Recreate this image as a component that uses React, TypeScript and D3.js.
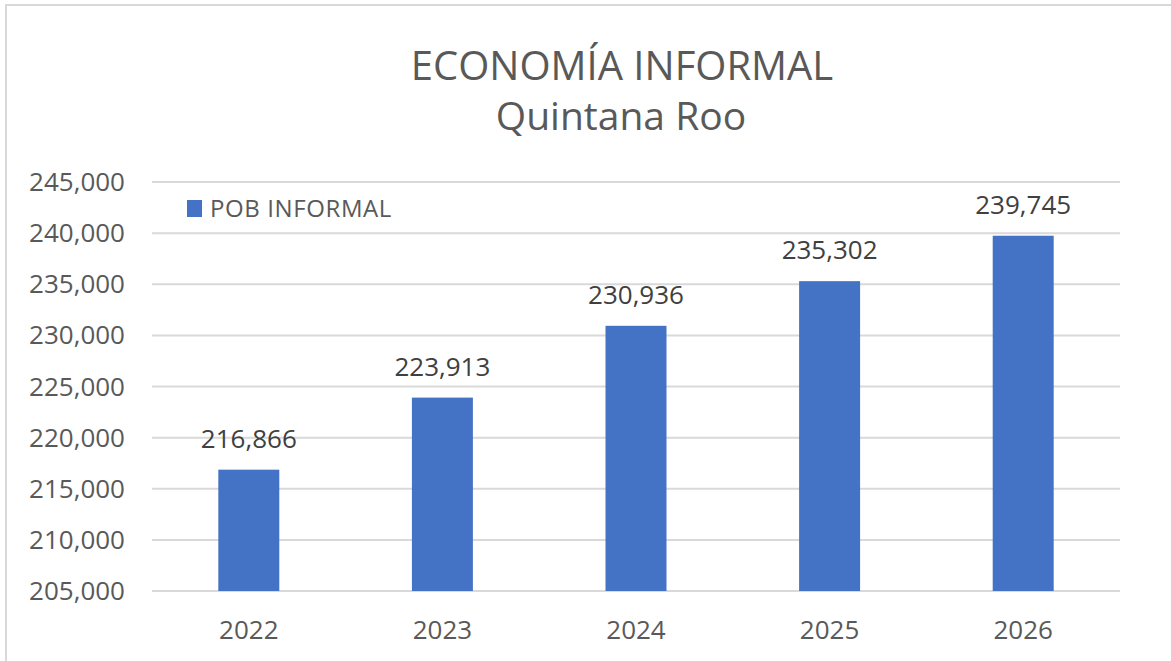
import React from "react";
import * as d3 from "d3";

const years = ["2022", "2023", "2024", "2025", "2026"];
const values = [216866, 223913, 230936, 235302, 239745];
const yTicks = [205000, 210000, 215000, 220000, 225000, 230000, 235000, 240000, 245000];

const width = 1171;
const height = 661;
const margin = { top: 182, right: 51, bottom: 70, left: 152 };
const font = "'Open Sans', sans-serif";
const textColor = "#595959";

export default function App() {
  const x = d3
    .scaleBand()
    .domain(years)
    .range([margin.left, width - margin.right])
    .paddingInner(0.685)
    .paddingOuter(0.3425);

  const y = d3
    .scaleLinear()
    .domain([205000, 245000])
    .range([height - margin.bottom, margin.top]);

  const fmt = d3.format(",");

  return (
    <svg
      width={width}
      height={height}
      style={{ position: "absolute", left: 0, top: 0, background: "#fff" }}
      fontFamily={font}
    >
      {/* chart area border */}
      <rect x={6} y={5} width={width + 20} height={height + 20} fill="#fff" stroke="#d9d9d9" strokeWidth={2} />

      {/* title */}
      <text x={622} y={80} textAnchor="middle" fontSize={40} fill={textColor}>
        ECONOMÍA INFORMAL
      </text>
      <text x={621} y={130} textAnchor="middle" fontSize={39} fill={textColor}>
        Quintana Roo
      </text>

      {/* grid + y labels */}
      <g>
        {yTicks.map((t) => (
          <g key={t}>
            <line
              x1={margin.left}
              x2={width - margin.right}
              y1={y(t)}
              y2={y(t)}
              stroke="#d9d9d9"
              strokeWidth={2}
            />
            <text x={125} y={y(t) + 9} textAnchor="end" fontSize={26} fill={textColor}>
              {fmt(t)}
            </text>
          </g>
        ))}
      </g>

      {/* bars */}
      <g fill="#4472C4">
        {values.map((v, i) => (
          <rect
            key={years[i]}
            x={x(years[i])}
            y={y(v)}
            width={x.bandwidth()}
            height={y(205000) - y(v)}
          />
        ))}
      </g>

      {/* data labels */}
      <g>
        {values.map((v, i) => (
          <text
            key={years[i]}
            x={(x(years[i]) as number) + x.bandwidth() / 2}
            y={y(v) - 22}
            textAnchor="middle"
            fontSize={26}
            fill="#404040"
          >
            {fmt(v)}
          </text>
        ))}
      </g>

      {/* x labels */}
      <g>
        {years.map((yr) => (
          <text
            key={yr}
            x={(x(yr) as number) + x.bandwidth() / 2}
            y={639}
            textAnchor="middle"
            fontSize={26}
            fill={textColor}
          >
            {yr}
          </text>
        ))}
      </g>

      {/* legend */}
      <rect x={187} y={200} width={15} height={17} fill="#4472C4" />
      <text x={210} y={217} fontSize={24} letterSpacing={0.6} fill={textColor}>
        POB INFORMAL
      </text>
    </svg>
  );
}
